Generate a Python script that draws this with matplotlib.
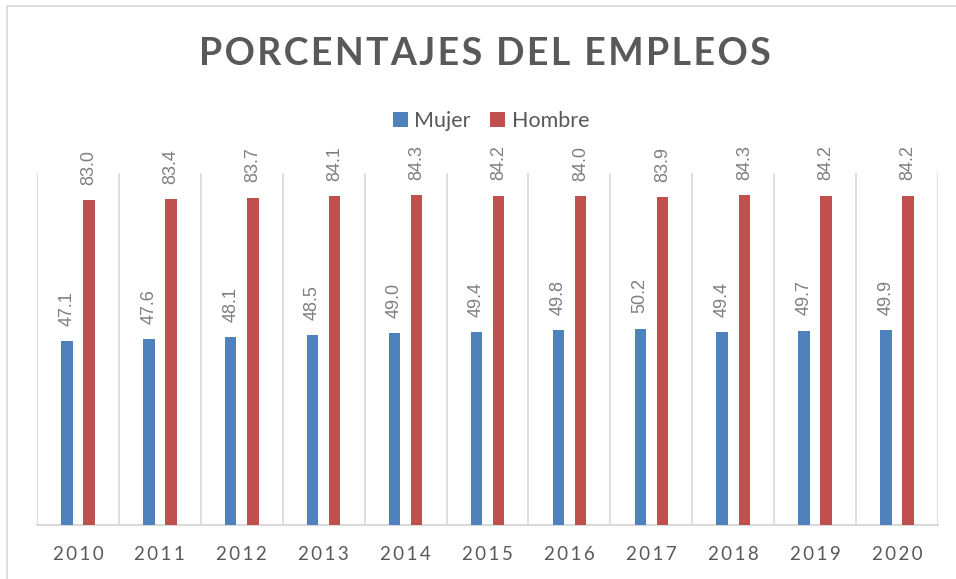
import numpy as np
import matplotlib.pyplot as plt
from matplotlib.lines import Line2D

# datos
anios = ['2010', '2011', '2012', '2013', '2014', '2015', '2016', '2017', '2018', '2019', '2020']
mujer = [47.1, 47.6, 48.1, 48.5, 49.0, 49.4, 49.8, 50.2, 49.4, 49.7, 49.9]
hombre = [83.0, 83.4, 83.7, 84.1, 84.3, 84.2, 84.0, 83.9, 84.3, 84.2, 84.2]

azul = '#4F81BD'
rojo = '#C0504D'
gris_texto = '#595959'
gris_etiqueta = '#7F7F7F'
gris_linea = '#D9D9D9'

HS = '\u200a'  # espacio fino para simular el espaciado entre letras


def espaciar(texto, sep=HS):
    """separa las letras de un texto con espacios finos"""
    return sep.join(texto)


fig = plt.figure(figsize=(9.56, 5.79), dpi=100)
W, H = 956, 579

# borde del area del grafico
fig.add_artist(Line2D([7 / W, 1.0], [1 - 6 / H, 1 - 6 / H], color=gris_linea, lw=1.2))
fig.add_artist(Line2D([7 / W, 7 / W], [0.0, 1 - 6 / H], color=gris_linea, lw=1.2))

ax = fig.add_axes([37 / W, 1 - 525 / H, (938 - 37) / W, (525 - 173) / H])

x = np.arange(len(anios))
ancho = 0.14
desp = 0.135
b1 = ax.bar(x - desp, mujer, ancho, color=azul, label='Mujer', zorder=3)
b2 = ax.bar(x + desp, hombre, ancho, color=rojo, label='Hombre', zorder=3)

# etiquetas de datos verticales
for barras, valores in [(b1, mujer), (b2, hombre)]:
    for rect, v in zip(barras, valores):
        ax.annotate(f'{v:.1f}', (rect.get_x() + rect.get_width() / 2, v),
                    xytext=(0, 11), textcoords='offset points',
                    rotation=90, ha='center', va='bottom',
                    fontsize=13, color=gris_etiqueta, family=['Liberation Sans', 'DejaVu Sans'])

ax.set_xlim(-0.5, len(anios) - 0.5)
ax.set_ylim(0, 90)

# lineas de division verticales entre categorias
ax.set_xticks(np.arange(-0.5, len(anios), 1.0), minor=True)
ax.grid(which='minor', axis='x', color=gris_linea, lw=1.2, zorder=0)
ax.tick_params(which='minor', length=0)

ax.set_xticks(x)
ax.set_xticklabels([espaciar(a, '\u2009') for a in anios], fontsize=13.5, color=gris_texto,
                   family=['Lato', 'DejaVu Sans'])
ax.tick_params(axis='x', which='major', length=0, pad=15)
ax.set_yticks([])

for s in ['top', 'left', 'right']:
    ax.spines[s].set_visible(False)
ax.spines['bottom'].set_color(gris_linea)
ax.spines['bottom'].set_linewidth(1.5)

# titulo
fig.text(485 / W, 1 - 54 / H, espaciar('PORCENTAJES DEL EMPLEOS'),
         ha='center', va='center', fontsize=27, fontweight='bold', color=gris_texto,
         family=['Lato', 'DejaVu Sans'])

# leyenda
leg = fig.legend(handles=[b1, b2], labels=['Mujer', 'Hombre'], loc='center',
                 bbox_to_anchor=(491 / W, 1 - 121 / H), ncol=2, frameon=False,
                 prop={'family': 'Lato', 'size': 15.5}, handlelength=0.7, handleheight=0.7,
                 handletextpad=0.3, columnspacing=0.9)
for t in leg.get_texts():
    t.set_color(gris_texto)

fig.savefig('out.png', dpi=100)
